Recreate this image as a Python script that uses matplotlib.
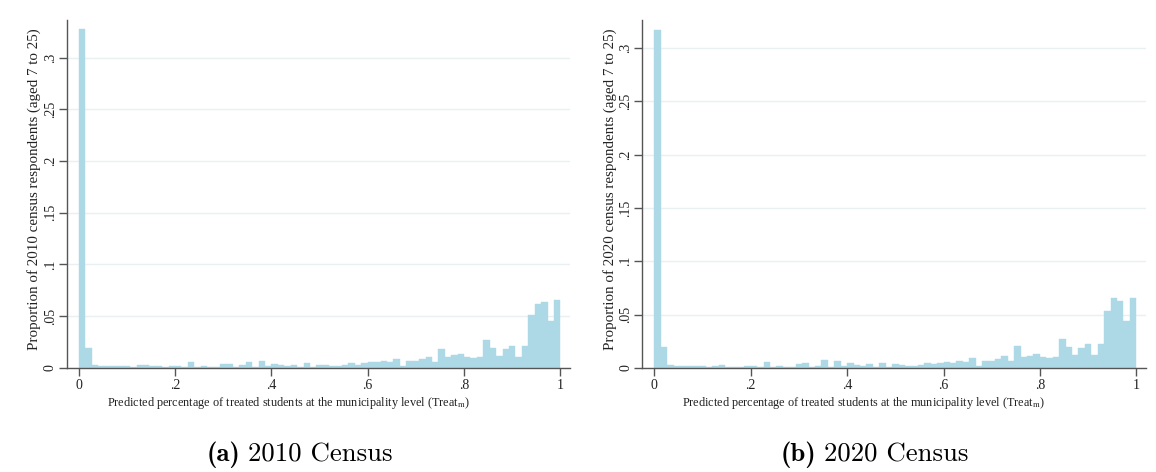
import numpy as np
import matplotlib

matplotlib.use("Agg")
import matplotlib.pyplot as plt

# 75 equal bins on [0, 1]; bar heights
n_bins = 75
share_2010 = [
    0.328, 0.0195, 0.0026, 0.0013, 0.0013, 0.0013, 0.0013, 0.0013, 0.0010, 0.0023,
    0.0029, 0.0013, 0.0013, 0.0003, 0.0013, 0.0013, 0.0010, 0.0055, 0.0010, 0.0016,
    0.0006, 0.0006, 0.0033, 0.0033, 0.0006, 0.0023, 0.0055, 0.0010, 0.0060, 0.0013,
    0.0036, 0.0026, 0.0016, 0.0029, 0.0010, 0.0042, 0.0010, 0.0030, 0.0023, 0.0013,
    0.0016, 0.0026, 0.0042, 0.0026, 0.0042, 0.0052, 0.0052, 0.0065, 0.0055, 0.0087,
    0.0013, 0.0065, 0.0065, 0.0081, 0.0107, 0.0055, 0.0180, 0.0107, 0.0120, 0.0130,
    0.0100, 0.0094, 0.0100, 0.0268, 0.0194, 0.0116, 0.0178, 0.0207, 0.0100, 0.0207,
    0.0510, 0.0614, 0.0640, 0.0456, 0.0660,
]
share_2020 = [
    0.317, 0.0197, 0.0030, 0.0016, 0.0016, 0.0016, 0.0016, 0.0016, 0.0012, 0.0022,
    0.0030, 0.0012, 0.0012, 0.0006, 0.0016, 0.0016, 0.0009, 0.0053, 0.0009, 0.0016,
    0.0009, 0.0009, 0.0037, 0.0047, 0.0009, 0.0022, 0.0072, 0.0012, 0.0065, 0.0016,
    0.0047, 0.0028, 0.0016, 0.0034, 0.0009, 0.0047, 0.0012, 0.0034, 0.0028, 0.0016,
    0.0019, 0.0028, 0.0044, 0.0034, 0.0047, 0.0056, 0.0050, 0.0069, 0.0059, 0.0094,
    0.0016, 0.0069, 0.0069, 0.0084, 0.0112, 0.0062, 0.0203, 0.0106, 0.0115, 0.0128,
    0.0106, 0.0097, 0.0106, 0.0268, 0.0197, 0.0125, 0.0187, 0.0225, 0.0119, 0.0222,
    0.0537, 0.0658, 0.0627, 0.0443, 0.0655,
]
x_ticks = [0, 0.2, 0.4, 0.6, 0.8, 1]
x_tick_labels = ["0", ".2", ".4", ".6", ".8", "1"]
y_ticks = [0, 0.05, 0.1, 0.15, 0.2, 0.25, 0.3]
y_tick_labels = ["0", ".05", ".1", ".15", ".2", ".25", ".3"]
years = ["2010", "2020"]
captions = [("(a)", "2010 Census"), ("(b)", "2020 Census")]

plt.rcParams["font.family"] = ["Liberation Serif", "DejaVu Serif"]
plt.rcParams["mathtext.fontset"] = "stix"

BAR = "#add8e6"
AXC = "#555555"
GRID = "#e8f0f1"
TXT = "#222222"

fig = plt.figure(figsize=(11.56, 4.72), dpi=100)
axes = [
    fig.add_axes([0.0577, 0.221, 0.4354, 0.7366]),
    fig.add_axes([0.5556, 0.2203, 0.4357, 0.7373]),
]
ytops = [0.3366, 0.326]
edges = np.linspace(0, 1, n_bins + 1)

for ax, vals, year, ytop in zip(axes, [share_2010, share_2020], years, ytops):
    ax.bar(edges[:-1], vals, width=edges[1] - edges[0], align="edge",
           color=BAR, edgecolor=BAR, linewidth=0.3, zorder=2)
    ax.set_xlim(-0.025, 1.02)
    ax.set_ylim(0, ytop)
    ax.set_xticks(x_ticks, x_tick_labels)
    ax.set_yticks(y_ticks, y_tick_labels)
    ax.yaxis.grid(True, color=GRID, linewidth=1.0, zorder=0)
    ax.set_axisbelow(True)
    for s in ("top", "right"):
        ax.spines[s].set_visible(False)
    for s in ("left", "bottom"):
        ax.spines[s].set_color(AXC)
        ax.spines[s].set_linewidth(1.0)
    ax.tick_params(axis="both", direction="out", length=6, width=1.0,
                   color=AXC, labelsize=10, labelcolor=TXT, pad=2)
    ax.tick_params(axis="y", pad=1)
    for lab in ax.get_yticklabels():
        lab.set_rotation(90)
        lab.set_va("center")
    ax.set_ylabel(f"Proportion of {year} census respondents (aged 7 to 25)",
                  fontsize=10.8, color=TXT)
    ax.yaxis.set_label_coords(-0.051, 0.514)
    ax.set_xlabel("Predicted percentage of treated students at the municipality level (Treat$_{\\rm m}$)",
                  fontsize=8.8, color=TXT)
    ax.xaxis.set_label_coords(0.44, -0.078)

cap_pos = [(0.2076, 0.2145), (0.7059, 0.7128)]
for (tag, txt), (xt, xc) in zip(captions, cap_pos):
    fig.text(xt, 0.036, tag, ha="right", va="center", fontsize=19.3,
             family="cmb10")
    fig.text(xc, 0.036, txt, ha="left", va="center", fontsize=19.3,
             family="cmr10")

fig.savefig("out.png", dpi=100)
